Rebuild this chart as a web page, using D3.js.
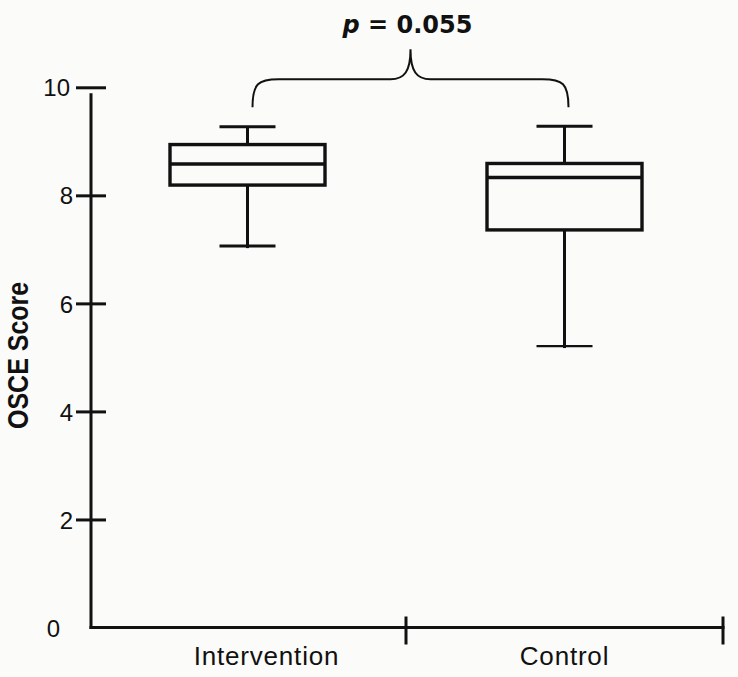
<!DOCTYPE html>
<html>
<head>
<meta charset="utf-8">
<script src="https://cdn.jsdelivr.net/npm/d3@7"></script>
<style>
  body { margin: 0; background: #fbfbfa; }
  svg { display: block; }
</style>
</head>
<body>
<div id="chart"></div>
<script>
// groups and five-number summaries
const groups = ["Intervention", "Control"];
const whiskerLow  = [7.06, 5.21];
const q1          = [8.19, 7.36];
const median      = [8.58, 8.33];
const q3          = [8.94, 8.59];
const whiskerHigh = [9.27, 9.28];
const yTicks = [0, 2, 4, 6, 8, 10];
const pLabel = "0.055";

const width = 738, height = 677;

const svg = d3.select("#chart").append("svg")
  .attr("width", width)
  .attr("height", height);

svg.append("rect").attr("width", width).attr("height", height).attr("fill", "#fbfbfa");

let x = d3.scaleBand()
  .domain(groups)
  .range([89, 723]);

let y = d3.scaleLinear()
  .domain([0, 10])
  .range([627.5, 87.3]);

const stroke = "#111";

// y axis
let yAxis = d3.axisLeft(y)
  .tickValues(yTicks)
  .tickSize(0)
  .tickPadding(18);

let gy = svg.append("g")
  .attr("transform", `translate(${x.range()[0] + 2}, 0)`)
  .call(yAxis);

gy.select(".domain").remove();
gy.append("line")
  .attr("x1", 0).attr("x2", 0)
  .attr("y1", y(10) + 6).attr("y2", y(0) + 1.5)
  .attr("stroke", stroke).attr("stroke-width", 3);

gy.selectAll(".tick line")
  .attr("x1", -15).attr("x2", 15)
  .attr("stroke", stroke).attr("stroke-width", 3)
  .style("display", d => d == 0 ? "none" : null);

gy.selectAll(".tick text")
  .attr("fill", stroke)
  .style("font-family", "'Liberation Sans', Arial, sans-serif")
  .style("font-size", "24px")
  .attr("x", d => d == 0 ? -31 : d == 10 ? -21 : -18)
  .attr("dy", "0.36em");

// x axis
let xAxis = d3.axisBottom(x).tickSize(0).tickPadding(19);

let gx = svg.append("g")
  .attr("transform", `translate(0, ${y(0)})`)
  .call(xAxis);

gx.select(".domain").remove();
gx.append("line")
  .attr("x1", x.range()[0] + 0.5).attr("x2", x.range()[1] + 1.5)
  .attr("y1", 0).attr("y2", 0)
  .attr("stroke", stroke).attr("stroke-width", 3);

gx.selectAll(".tick text")
  .attr("fill", stroke)
  .attr("dx", (d, i) => i == 0 ? 19 : 0)
  .style("font-family", "'Liberation Sans', Arial, sans-serif")
  .style("font-size", "26px")
  .style("letter-spacing", "0.8px");

// ticks at the band boundaries
gx.selectAll("line.boundary")
  .data(groups)
  .enter()
  .append("line")
  .attr("class", "boundary")
  .attr("x1", d => x(d) + x.bandwidth())
  .attr("x2", d => x(d) + x.bandwidth())
  .attr("y1", -11).attr("y2", 17)
  .attr("stroke", stroke).attr("stroke-width", 3);

// y axis title
svg.append("text")
  .attr("transform", `translate(28, ${(y(0) + y(10)) / 2 - 2}) scale(1.2, 1) rotate(-90)`)
  .attr("text-anchor", "middle")
  .style("font-family", "'Liberation Sans', Arial, sans-serif")
  .style("font-weight", "bold")
  .style("font-size", "25px")
  .attr("fill", stroke)
  .text("OSCE Score");

// boxes
const boxW = 155, capW = 56;
let boxes = svg.selectAll("g.box")
  .data(groups.map((g, i) => ({
    name: g, lo: whiskerLow[i], q1: q1[i], med: median[i], q3: q3[i], hi: whiskerHigh[i]
  })))
  .enter()
  .append("g")
  .attr("class", "box")
  .attr("transform", d => `translate(${x(d.name) + x.bandwidth() / 2}, 0)`);

// whiskers
boxes.append("line")
  .attr("x1", 0).attr("x2", 0)
  .attr("y1", d => y(d.hi)).attr("y2", d => y(d.q3))
  .attr("stroke", stroke).attr("stroke-width", 3);
boxes.append("line")
  .attr("x1", 0).attr("x2", 0)
  .attr("y1", d => y(d.q1)).attr("y2", d => y(d.lo) + 2)
  .attr("stroke", stroke).attr("stroke-width", 3);

// caps
boxes.append("line")
  .attr("x1", -capW / 2).attr("x2", capW / 2)
  .attr("y1", d => y(d.hi)).attr("y2", d => y(d.hi))
  .attr("stroke", stroke).attr("stroke-width", 3);
boxes.append("line")
  .attr("x1", -capW / 2).attr("x2", capW / 2)
  .attr("y1", d => y(d.lo)).attr("y2", d => y(d.lo))
  .attr("stroke", stroke).attr("stroke-width", (d, i) => i == 1 ? 2.2 : 3);

// box
boxes.append("rect")
  .attr("x", -boxW / 2)
  .attr("width", boxW)
  .attr("y", d => y(d.q3))
  .attr("height", d => y(d.q1) - y(d.q3))
  .attr("fill", "none")
  .attr("stroke", stroke).attr("stroke-width", 3.4);

// median
boxes.append("line")
  .attr("x1", -boxW / 2).attr("x2", boxW / 2)
  .attr("y1", d => y(d.med)).attr("y2", d => y(d.med))
  .attr("stroke", stroke).attr("stroke-width", 3.4);

// significance brace
let bx1 = x(groups[0]) + x.bandwidth() / 2 + 5;
let bx2 = x(groups[1]) + x.bandwidth() / 2 + 4;
let bm = (bx1 + bx2) / 2;
let yBot = y(10) + 20, yFlat = y(10) - 8, yPeak = y(10) - 38;
let r = 26;

let p = d3.path();
p.moveTo(bx1, yBot);
p.bezierCurveTo(bx1, yFlat + 4, bx1 + 6, yFlat, bx1 + r, yFlat);
p.lineTo(bm - 20, yFlat);
p.bezierCurveTo(bm - 6, yFlat, bm, yFlat - 8, bm, yPeak);
p.bezierCurveTo(bm, yFlat - 8, bm + 6, yFlat, bm + 20, yFlat);
p.lineTo(bx2 - r, yFlat);
p.bezierCurveTo(bx2 - 6, yFlat, bx2, yFlat + 4, bx2, yBot);

svg.append("path")
  .attr("d", p.toString())
  .attr("fill", "none")
  .attr("stroke", stroke)
  .attr("stroke-width", 2);

let pt = svg.append("text")
  .attr("x", bm - 3)
  .attr("y", 33)
  .attr("text-anchor", "middle")
  .style("font-family", "'DejaVu Sans', sans-serif")
  .style("font-weight", "bold")
  .style("font-size", "24px")
  .attr("fill", stroke);
pt.append("tspan").style("font-style", "italic").text("p");
pt.append("tspan").text(" = " + pLabel);
</script>
</body>
</html>
